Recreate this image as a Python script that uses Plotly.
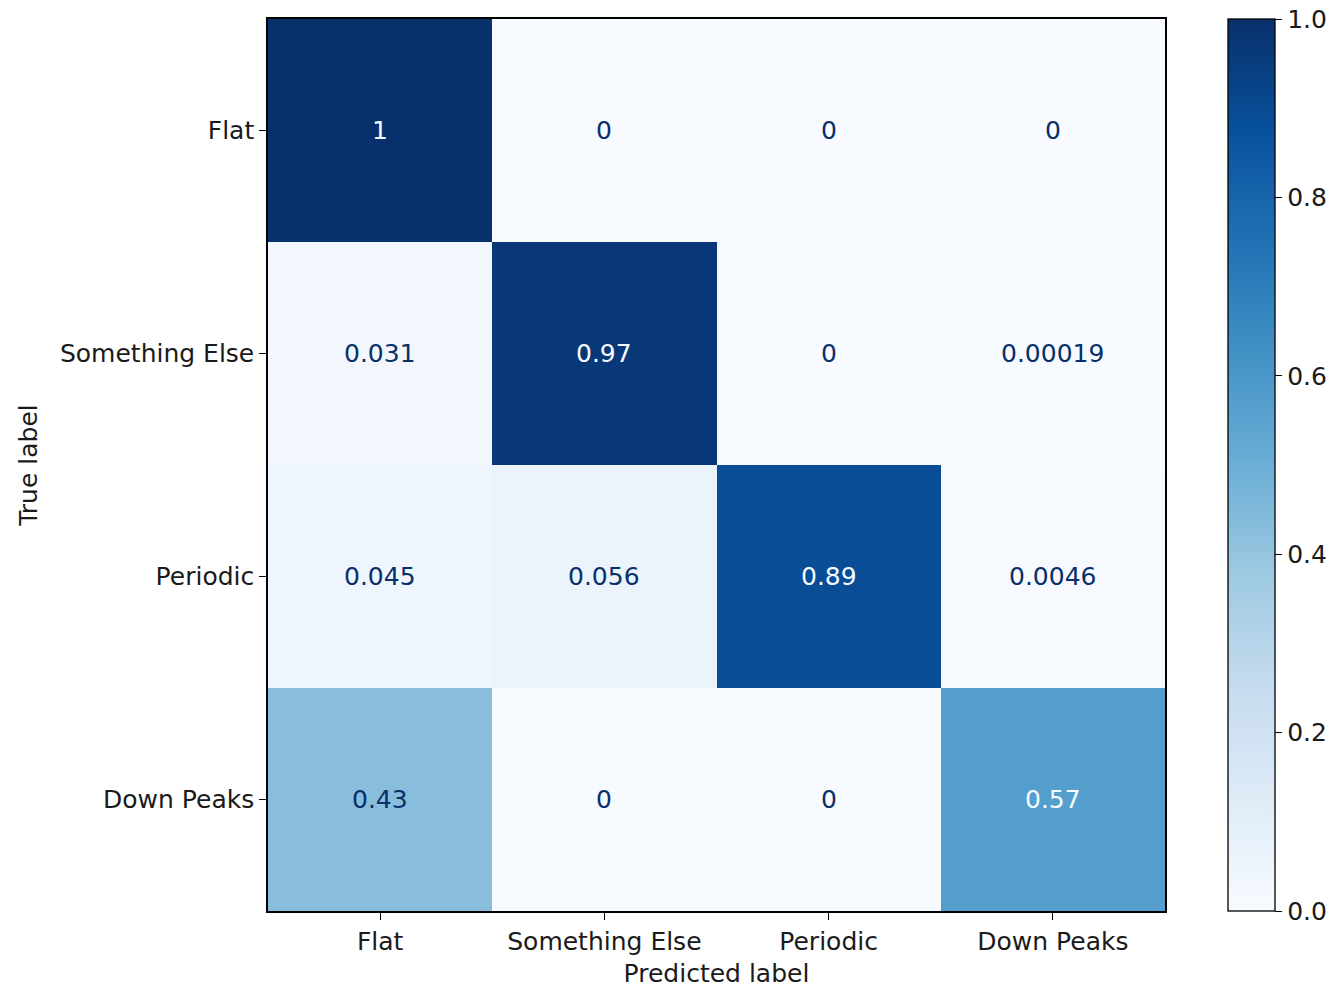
import plotly.graph_objects as go
import plotly.express as px

labels = ["Flat", "Something Else", "Periodic", "Down Peaks"]
row_flat = [1.0, 0.0, 0.0, 0.0]
row_something_else = [0.031, 0.97, 0.0, 0.00019]
row_periodic = [0.045, 0.056, 0.89, 0.0046]
row_down_peaks = [0.43, 0.0, 0.0, 0.57]
cb_ticks = [0.0, 0.2, 0.4, 0.6, 0.8, 1.0]

z = [row_flat, row_something_else, row_periodic, row_down_peaks]
blues = px.colors.sequential.Blues
FONT = "DejaVu Sans"
FS = 25

fig = go.Figure(go.Heatmap(
    z=z, x=labels, y=labels, zmin=0, zmax=1,
    colorscale=blues, showscale=True,
    colorbar=dict(
        x=1.0702, xanchor="left", xref="paper",
        y=0.5, yanchor="middle", len=1.0, lenmode="fraction",
        thickness=47, thicknessmode="pixels",
        outlinecolor="black", outlinewidth=1.3,
        xpad=0, ypad=0,
        tickvals=cb_ticks, ticktext=[f"{t:.1f}" for t in cb_ticks],
        ticks="outside", ticklen=7, tickcolor="black", tickwidth=1.3,
        tickfont=dict(family=FONT, size=FS, color="#1a1a1a"),
    ),
    hoverongaps=False,
))

for i, row in enumerate(z):
    for j, v in enumerate(row):
        fig.add_annotation(
            x=labels[j], y=labels[i], text=f"{v:.2g}", showarrow=False,
            font=dict(family=FONT, size=FS,
                      color="#f7fbff" if v >= 0.5 else "#08306b"),
        )

fig.update_xaxes(
    showline=True, mirror=True, linecolor="black", linewidth=1.5,
    ticks="outside", ticklen=7, tickcolor="black", tickwidth=1.3,
    tickfont=dict(family=FONT, size=FS, color="#1a1a1a"),
    title=dict(text="Predicted label", font=dict(family=FONT, size=FS, color="#1a1a1a"), standoff=10),
    showgrid=False, zeroline=False, automargin=False,
)
fig.update_yaxes(
    autorange="reversed",
    showline=True, mirror=True, linecolor="black", linewidth=1.5,
    ticks="outside", ticklen=7, tickcolor="black", tickwidth=1.3,
    tickfont=dict(family=FONT, size=FS, color="#1a1a1a"),
    title=dict(text="True label", font=dict(family=FONT, size=FS, color="#1a1a1a"), standoff=15),
    showgrid=False, zeroline=False, automargin=False,
)
fig.update_layout(
    width=1332, height=989,
    margin=dict(l=268, r=167, t=19, b=78, pad=0, autoexpand=False),
    paper_bgcolor="white", plot_bgcolor="white",
    font=dict(family=FONT, size=FS, color="#1a1a1a"),
)
fig.write_html("out.html")
